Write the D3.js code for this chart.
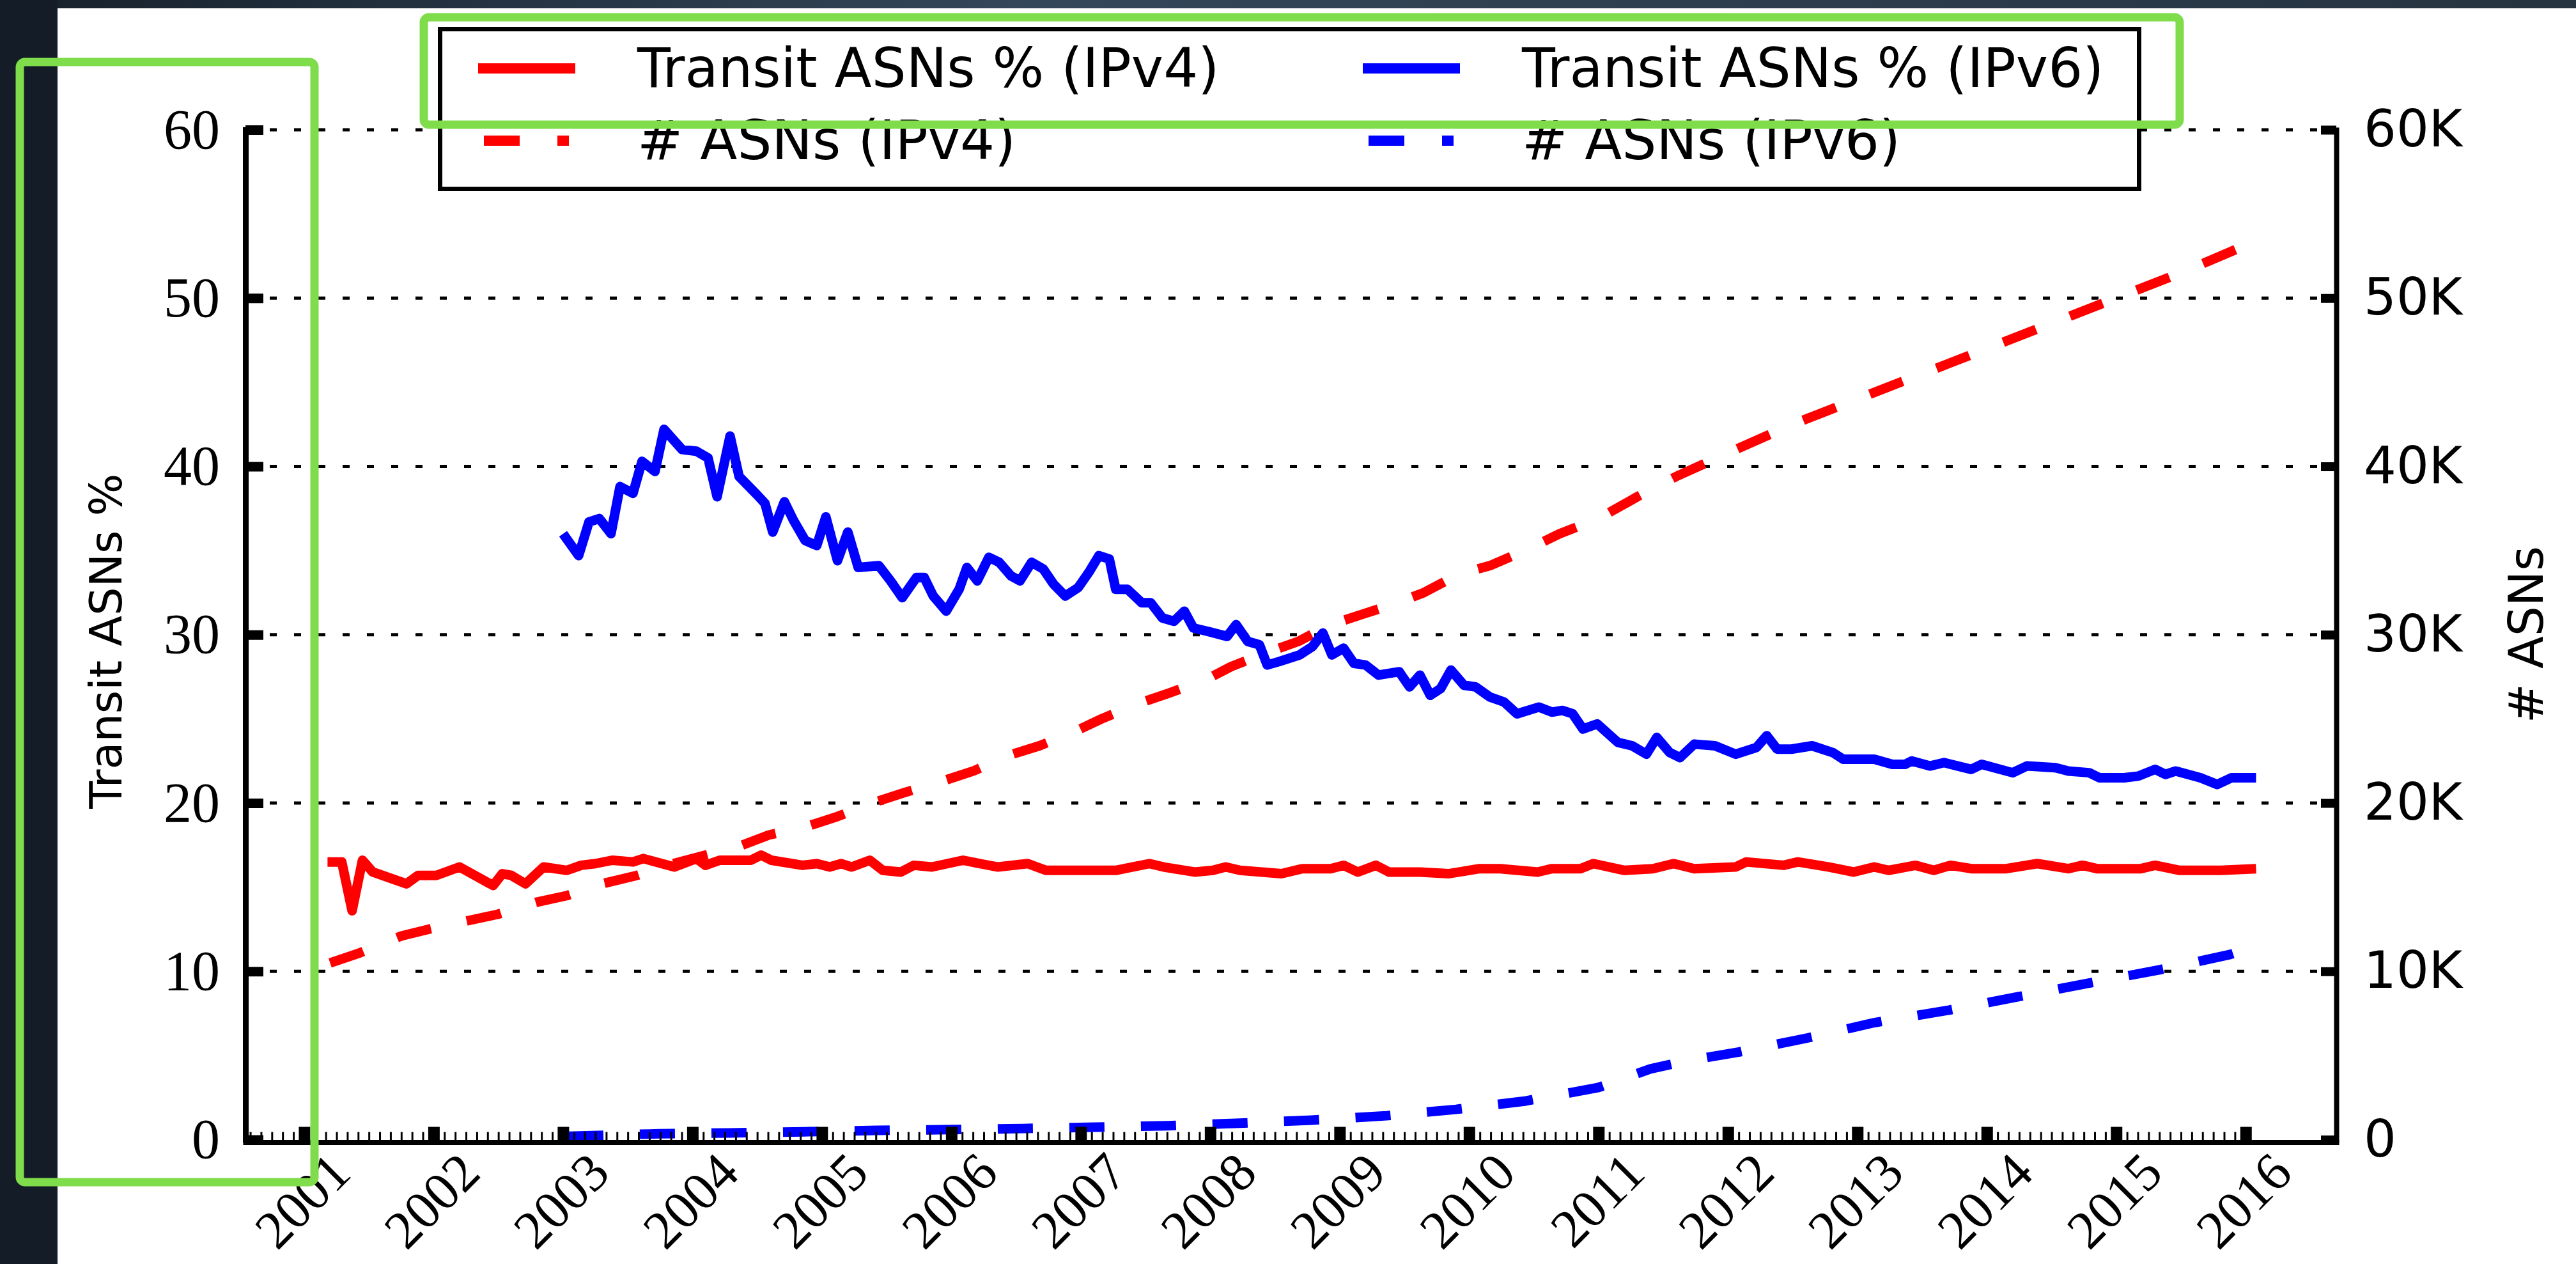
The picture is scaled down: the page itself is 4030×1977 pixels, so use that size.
<!DOCTYPE html>
<html>
<head>
<meta charset="utf-8">
<script src="https://cdn.jsdelivr.net/npm/d3@7"></script>
<style>
  body { margin: 0; background: #fff; }
  svg { display: block; }
</style>
</head>
<body>
<svg id="chart" width="4030" height="1977"></svg>
<script>
// --- data (x = decimal year) ---
const years = [2001, 2002, 2003, 2004, 2005, 2006, 2007, 2008, 2009, 2010, 2011, 2012, 2013, 2014, 2015, 2016];
const pctTicks = [0, 10, 20, 30, 40, 50, 60];
const countTicks = [0, 10000, 20000, 30000, 40000, 50000, 60000];

// Transit ASNs % (IPv4)
const transitV4 = [
  [2001.18,16.5],[2001.29,16.5],[2001.37,13.6],[2001.45,16.6],[2001.53,15.9],[2001.79,15.2],[2001.88,15.7],
  [2002.02,15.7],[2002.20,16.2],[2002.46,15.1],[2002.53,15.8],[2002.60,15.7],[2002.71,15.2],[2002.85,16.2],
  [2003.03,16.0],[2003.14,16.3],[2003.25,16.4],[2003.38,16.6],[2003.54,16.5],[2003.62,16.7],[2003.86,16.2],
  [2004.03,16.7],[2004.10,16.3],[2004.21,16.6],[2004.45,16.6],[2004.53,16.9],[2004.61,16.6],[2004.85,16.3],
  [2004.96,16.4],[2005.06,16.2],[2005.15,16.4],[2005.23,16.2],[2005.37,16.6],[2005.47,16.0],[2005.61,15.9],
  [2005.71,16.3],[2005.85,16.2],[2006.09,16.6],[2006.22,16.4],[2006.36,16.2],[2006.59,16.4],[2006.73,16.0],
  [2006.95,16.0],[2007.27,16.0],[2007.53,16.4],[2007.64,16.2],[2007.88,15.9],[2008.02,16.0],[2008.12,16.2],
  [2008.23,16.0],[2008.55,15.8],[2008.71,16.1],[2008.93,16.1],[2009.03,16.3],[2009.14,15.9],[2009.28,16.3],
  [2009.38,15.9],[2009.62,15.9],[2009.84,15.8],[2010.08,16.1],[2010.24,16.1],[2010.53,15.9],[2010.64,16.1],
  [2010.86,16.1],[2010.96,16.4],[2011.20,16.0],[2011.42,16.1],[2011.58,16.4],[2011.74,16.1],[2012.06,16.2],
  [2012.14,16.5],[2012.43,16.3],[2012.54,16.5],[2012.78,16.2],[2012.97,15.9],[2013.13,16.2],[2013.24,16.0],
  [2013.45,16.3],[2013.59,16.0],[2013.72,16.3],[2013.88,16.1],[2014.15,16.1],[2014.39,16.4],[2014.63,16.1],
  [2014.74,16.3],[2014.85,16.1],[2015.19,16.1],[2015.30,16.3],[2015.49,16.0],[2015.81,16.0],[2016.08,16.1]
];

// Transit ASNs % (IPv6)
const transitV6 = [
  [2003.00,36.0],[2003.12,34.7],[2003.20,36.7],[2003.28,36.9],[2003.37,36.0],[2003.44,38.8],[2003.54,38.4],
  [2003.61,40.3],[2003.71,39.7],[2003.78,42.2],[2003.92,41.0],[2004.03,40.9],[2004.12,40.5],[2004.19,38.2],
  [2004.29,41.8],[2004.36,39.4],[2004.50,38.3],[2004.56,37.8],[2004.62,36.1],[2004.71,37.9],[2004.78,36.8],
  [2004.87,35.6],[2004.96,35.3],[2005.03,37.0],[2005.12,34.4],[2005.20,36.1],[2005.28,34.0],[2005.44,34.1],
  [2005.53,33.2],[2005.62,32.2],[2005.73,33.4],[2005.79,33.4],[2005.86,32.3],[2005.96,31.4],[2006.06,32.7],
  [2006.12,34.0],[2006.20,33.2],[2006.29,34.6],[2006.37,34.3],[2006.46,33.5],[2006.53,33.2],[2006.62,34.3],
  [2006.71,33.9],[2006.79,33.0],[2006.88,32.3],[2006.98,32.8],[2007.07,33.8],[2007.14,34.7],[2007.22,34.5],
  [2007.27,32.7],[2007.36,32.7],[2007.47,31.9],[2007.54,31.9],[2007.63,31.0],[2007.72,30.8],[2007.80,31.4],
  [2007.87,30.4],[2007.98,30.2],[2008.13,29.9],[2008.20,30.6],[2008.29,29.6],[2008.38,29.4],[2008.44,28.2],
  [2008.53,28.4],[2008.69,28.8],[2008.79,29.3],[2008.87,30.1],[2008.94,28.8],[2009.03,29.2],[2009.11,28.3],
  [2009.20,28.2],[2009.30,27.6],[2009.46,27.8],[2009.54,26.9],[2009.62,27.6],[2009.70,26.4],[2009.78,26.8],
  [2009.86,27.9],[2009.96,27.0],[2010.05,26.9],[2010.16,26.3],[2010.27,26.0],[2010.37,25.3],[2010.54,25.7],
  [2010.64,25.4],[2010.72,25.5],[2010.80,25.3],[2010.88,24.4],[2010.99,24.7],[2011.15,23.6],[2011.26,23.4],
  [2011.37,22.9],[2011.45,23.9],[2011.55,23.0],[2011.63,22.7],[2011.74,23.5],[2011.90,23.4],[2012.06,22.9],
  [2012.22,23.3],[2012.30,24.0],[2012.38,23.2],[2012.49,23.2],[2012.65,23.4],[2012.81,23.0],[2012.89,22.6],
  [2013.13,22.6],[2013.27,22.3],[2013.37,22.3],[2013.42,22.5],[2013.56,22.2],[2013.67,22.4],[2013.88,22.0],
  [2013.96,22.3],[2014.20,21.8],[2014.31,22.2],[2014.53,22.1],[2014.63,21.9],[2014.79,21.8],[2014.87,21.5],
  [2015.06,21.5],[2015.17,21.6],[2015.30,22.0],[2015.38,21.7],[2015.46,21.9],[2015.65,21.5],[2015.78,21.1],
  [2015.89,21.5],[2016.08,21.5]
];

// # ASNs (IPv4)
const countV4 = [
  [2001.20,10500],[2001.43,11100],[2001.75,12100],[2001.96,12500],[2002.26,13000],[2002.50,13400],
  [2002.79,14100],[2003.03,14500],[2003.30,15200],[2003.57,15700],[2003.85,16400],[2004.10,16900],
  [2004.35,17400],[2004.59,18100],[2004.88,18600],[2005.12,19200],[2005.39,20000],[2005.63,20600],
  [2005.93,21300],[2006.17,21900],[2006.43,22800],[2006.68,23400],[2006.94,24200],[2007.16,25000],
  [2007.44,25900],[2007.67,26500],[2007.96,27300],[2008.16,28100],[2008.46,29000],[2008.68,29600],
  [2008.93,30600],[2009.17,31200],[2009.41,31800],[2009.65,32500],[2009.92,33600],[2010.16,34100],
  [2010.43,35000],[2010.70,36000],[2011.00,36900],[2011.30,38200],[2011.60,39400],[2012.00,40800],
  [2012.50,42500],[2013.00,44000],[2013.50,45500],[2014.00,47000],[2014.50,48500],[2015.00,50000],
  [2015.50,51500],[2016.08,53400]
];

// # ASNs (IPv6)
const countV6 = [
  [2003.04,200],[2003.74,350],[2004.30,400],[2004.86,470],[2005.42,550],[2005.99,600],[2006.55,660],
  [2007.11,740],[2007.67,830],[2008.23,980],[2008.76,1150],[2009.36,1420],[2009.90,1800],[2010.44,2300],
  [2011.00,3100],[2011.40,4200],[2011.66,4650],[2012.08,5200],[2012.62,6050],[2013.13,6950],[2013.71,7700],
  [2014.25,8500],[2014.79,9300],[2015.34,10100],[2015.88,11000],[2016.08,11500]
];

const legendItems = [
  { label: "Transit ASNs % (IPv4)", color: "#ff0000", dashed: false, col: 0, row: 0 },
  { label: "Transit ASNs % (IPv6)", color: "#0000ff", dashed: false, col: 1, row: 0 },
  { label: "# ASNs (IPv4)",         color: "#ff0000", dashed: true,  col: 0, row: 1 },
  { label: "# ASNs (IPv6)",         color: "#0000ff", dashed: true,  col: 1, row: 1 }
];

// --- layout ---
const svg = d3.select("#chart");
const W = 4030, H = 1977;
const plot = { left: 384, right: 3655, top: 203, bottom: 1782.5 };
const DASH = "55 57";
const LW = 15;

const x = d3.scaleLinear().domain([2000.546, 2016.70]).range([plot.left, plot.right]);
const yL = d3.scaleLinear().domain([0, 60]).range([plot.bottom, plot.top]);
const yR = d3.scaleLinear().domain([0, 60000]).range([plot.bottom, plot.top]);

// slide background: white page with a dark frame on top/left
const defs = svg.append("defs");
const grad = defs.append("linearGradient").attr("id", "frame");
grad.append("stop").attr("offset", "0%").attr("stop-color", "#17212b");
grad.append("stop").attr("offset", "40%").attr("stop-color", "#34465a");
grad.append("stop").attr("offset", "100%").attr("stop-color", "#26343f");

svg.append("rect").attr("width", W).attr("height", H).attr("fill", "#fff");
svg.append("rect").attr("width", W).attr("height", 13).attr("fill", "url(#frame)");
svg.append("rect").attr("width", 90).attr("height", H).attr("fill", "#141d27");

// dotted grid
svg.append("g")
  .selectAll("line")
  .data(pctTicks.filter(d => d > 0))
  .join("line")
  .attr("x1", plot.left).attr("x2", plot.right)
  .attr("y1", d => yL(d)).attr("y2", d => yL(d))
  .attr("stroke", "#000")
  .attr("stroke-width", 5)
  .attr("stroke-dasharray", "11 27");

// series
const pctLine = d3.line().x(d => x(d[0])).y(d => yL(d[1]));
const cntLine = d3.line().x(d => x(d[0])).y(d => yR(d[1]));

const series = [
  { data: countV4, gen: cntLine, color: "#ff0000", dashed: true },
  { data: countV6, gen: cntLine, color: "#0000ff", dashed: true },
  { data: transitV4, gen: pctLine, color: "#ff0000", dashed: false },
  { data: transitV6, gen: pctLine, color: "#0000ff", dashed: false }
];

svg.append("g")
  .selectAll("path")
  .data(series)
  .join("path")
  .attr("d", s => s.gen(s.data))
  .attr("fill", "none")
  .attr("stroke", s => s.color)
  .attr("stroke-width", LW)
  .attr("stroke-linejoin", "round")
  .attr("stroke-dasharray", s => s.dashed ? DASH : null);

// axes
function styleAxis(g, majorWidth) {
  g.attr("font-size", null).attr("font-family", null);
  g.select(".domain").attr("stroke-width", 9).attr("stroke-linecap", "square");
  g.selectAll(".tick line").attr("stroke-width", majorWidth);
  g.selectAll(".tick text").attr("fill", "#000");
}

// monthly minor ticks on the x axis
const minorTicks = [];
years.slice(0, -1).concat([2000]).forEach(yr => {
  for (let m = 1; m < 12; m++) minorTicks.push(yr + m / 12);
});
svg.append("g")
  .attr("transform", `translate(0,${plot.bottom + 4})`)
  .call(d3.axisBottom(x)
    .tickValues(minorTicks.filter(t => t > x.domain()[0] && t < x.domain()[1]))
    .tickSize(-16).tickFormat(""))
  .call(g => g.select(".domain").remove())
  .call(g => g.selectAll(".tick line").attr("stroke-width", 3));

const gx = svg.append("g")
  .attr("transform", `translate(0,${plot.bottom + 4})`)
  .call(d3.axisBottom(x).tickValues(years).tickSize(-24).tickSizeOuter(0)
    .tickFormat(d3.format("d")))
  .call(g => styleAxis(g, 18))
  .call(g => g.select(".domain").attr("stroke-width", 8));
gx.selectAll(".tick text")
  .attr("font-family", "'Liberation Serif', serif")
  .attr("font-size", 84)
  .attr("text-anchor", "end")
  .attr("y", 0).attr("dy", 0)
  .attr("transform", "translate(76,52) rotate(-45)");

const gyL = svg.append("g")
  .attr("transform", `translate(${plot.left},0)`)
  .call(d3.axisLeft(yL).tickValues(pctTicks).tickSize(-28).tickSizeOuter(0).tickPadding(40))
  .call(g => styleAxis(g, 15));
gyL.selectAll(".tick text")
  .attr("font-family", "'Liberation Serif', serif")
  .attr("font-size", 88);

const gyR = svg.append("g")
  .attr("transform", `translate(${plot.right},0)`)
  .call(d3.axisRight(yR).tickValues(countTicks).tickSize(-24).tickSizeOuter(0).tickPadding(43)
    .tickFormat(d => d === 0 ? "0" : d / 1000 + "K"))
  .call(g => styleAxis(g, 14))
  .call(g => g.select(".domain").attr("stroke-width", 8));
gyR.selectAll(".tick text")
  .attr("font-family", "'DejaVu Sans', sans-serif")
  .attr("font-size", 80);

// axis titles
svg.append("text")
  .attr("transform", `translate(190,${(plot.top + plot.bottom) / 2 + 10}) rotate(-90)`)
  .attr("text-anchor", "middle")
  .attr("font-family", "'DejaVu Sans', sans-serif")
  .attr("font-size", 70)
  .text("Transit ASNs %");

svg.append("text")
  .attr("transform", `translate(3978,${(plot.top + plot.bottom) / 2}) rotate(-90)`)
  .attr("text-anchor", "middle")
  .attr("font-family", "'DejaVu Sans', sans-serif")
  .attr("font-size", 74)
  .text("# ASNs");

// legend
const legend = svg.append("g");
legend.append("rect")
  .attr("x", 688.5).attr("y", 45.5)
  .attr("width", 2658).attr("height", 250)
  .attr("fill", "#fff").attr("stroke", "#000").attr("stroke-width", 7);

const colX = [748, 2132];
const rowY = [107, 220];
const item = legend.selectAll("g.item")
  .data(legendItems)
  .join("g")
  .attr("class", "item")
  .attr("transform", d => `translate(${colX[d.col]},${rowY[d.row]})`);

item.append("line")
  .attr("x1", d => d.dashed ? 9 : 0)
  .attr("x2", d => d.dashed ? 142 : 152)
  .attr("stroke", d => d.color)
  .attr("stroke-width", 16)
  .attr("stroke-dasharray", d => d.dashed ? "56 59" : null);

item.append("text")
  .attr("x", 249)
  .attr("y", 29)
  .attr("font-family", "'DejaVu Sans', sans-serif")
  .attr("font-size", 85)
  .text(d => d.label);

// green highlight marks drawn on the slide
const marks = svg.append("g")
  .attr("fill", "none")
  .attr("stroke", "#7fdc4a")
  .attr("stroke-width", 13)
  .attr("stroke-linejoin", "round");
marks.append("rect").attr("x", 31).attr("y", 97).attr("width", 461).attr("height", 1752).attr("rx", 8);
marks.append("rect").attr("x", 663).attr("y", 27).attr("width", 2747).attr("height", 168).attr("rx", 8);
</script>
</body>
</html>
